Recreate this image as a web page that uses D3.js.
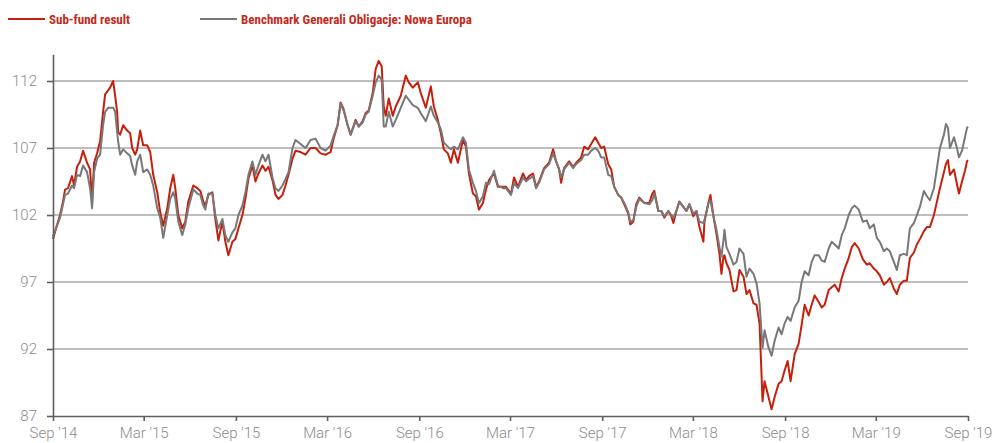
<!DOCTYPE html>
<html>
<head>
<meta charset="utf-8">
<script src="https://cdn.jsdelivr.net/npm/d3@7"></script>
<style>
    body { margin: 0; background: #fff; }
    .grid line { stroke: #a8a8a8; stroke-width: 1.6; }
    .axis path, .axis line { stroke: #5f5f5f; stroke-width: 1.6; }
    .axis text { fill: #8c8c8c; font-family: Roboto, "Open Sans", sans-serif; font-weight: 300; font-size: 15px; }
    .legend text { fill: #c42a1c; font-family: "Liberation Sans Narrow", "Roboto Condensed", sans-serif; font-weight: bold; font-size: 13px; }
</style>
</head>
<body>
<script>
//dates, weekly-ish around turning points
var dates = [
    "2014-09-01","2014-09-07","2014-09-15","2014-09-21","2014-09-25","2014-10-01","2014-10-09","2014-10-13","2014-10-19","2014-10-25",
    "2014-10-31","2014-11-08","2014-11-14","2014-11-18","2014-11-22","2014-11-28","2014-12-04","2014-12-10","2014-12-14","2014-12-20",
    "2014-12-24","2014-12-30","2015-01-03","2015-01-07","2015-01-09","2015-01-13","2015-01-19","2015-01-27","2015-02-02","2015-02-06",
    "2015-02-12","2015-02-16","2015-02-22","2015-02-28","2015-03-08","2015-03-14","2015-03-20","2015-03-28","2015-04-03","2015-04-09",
    "2015-04-17","2015-04-23","2015-04-29","2015-05-03","2015-05-09","2015-05-17","2015-05-23","2015-05-29","2015-06-08","2015-06-16",
    "2015-06-22","2015-06-28","2015-07-02","2015-07-08","2015-07-16","2015-07-22","2015-07-28","2015-08-05","2015-08-11","2015-08-17",
    "2015-08-25","2015-08-31","2015-09-06","2015-09-14","2015-09-20","2015-09-26","2015-10-04","2015-10-10","2015-10-16","2015-10-24",
    "2015-10-30","2015-11-05","2015-11-13","2015-11-19","2015-11-25","2015-12-03","2015-12-09","2015-12-15","2015-12-23","2015-12-29",
    "2016-01-08","2016-01-18","2016-01-28","2016-02-07","2016-02-17","2016-02-27","2016-03-08","2016-03-14","2016-03-22","2016-03-28",
    "2016-04-03","2016-04-11","2016-04-17","2016-04-27","2016-05-03","2016-05-11","2016-05-17","2016-05-23","2016-05-31","2016-06-06",
    "2016-06-12","2016-06-18","2016-06-22","2016-06-26","2016-07-02","2016-07-10","2016-07-16","2016-07-26","2016-08-05","2016-08-11",
    "2016-08-19","2016-08-29","2016-09-04","2016-09-14","2016-09-24","2016-09-30","2016-10-08","2016-10-14","2016-10-20","2016-10-28",
    "2016-11-03","2016-11-09","2016-11-17","2016-11-27","2016-12-03","2016-12-09","2016-12-17","2016-12-23","2016-12-29","2017-01-06",
    "2017-01-12","2017-01-18","2017-01-28","2017-02-05","2017-02-15","2017-02-21","2017-03-03","2017-03-09","2017-03-17","2017-03-27",
    "2017-04-02","2017-04-08","2017-04-16","2017-04-22","2017-04-28","2017-05-08","2017-05-18","2017-05-26","2017-06-01","2017-06-07",
    "2017-06-11","2017-06-17","2017-06-27","2017-07-05","2017-07-11","2017-07-21","2017-07-27","2017-08-04","2017-08-10","2017-08-18",
    "2017-08-24","2017-08-30","2017-09-05","2017-09-13","2017-09-19","2017-09-25","2017-10-03","2017-10-09","2017-10-15","2017-10-23",
    "2017-10-27","2017-11-02","2017-11-08","2017-11-14","2017-11-24","2017-12-04","2017-12-10","2017-12-14","2017-12-22","2017-12-28",
    "2018-01-03","2018-01-11","2018-01-17","2018-01-21","2018-01-27","2018-02-02","2018-02-10","2018-02-16","2018-02-22","2018-03-02",
    "2018-03-08","2018-03-14","2018-03-22","2018-03-24","2018-04-01","2018-04-05","2018-04-11","2018-04-17","2018-04-23","2018-04-27",
    "2018-05-01","2018-05-03","2018-05-07","2018-05-13","2018-05-21","2018-05-27","2018-06-02","2018-06-10","2018-06-16","2018-06-22",
    "2018-06-30","2018-07-06","2018-07-12","2018-07-18","2018-07-22","2018-07-30","2018-08-05","2018-08-11","2018-08-19","2018-08-25",
    "2018-08-31","2018-09-06","2018-09-12","2018-09-20","2018-09-28","2018-10-04","2018-10-10","2018-10-18","2018-10-24","2018-10-30",
    "2018-11-07","2018-11-13","2018-11-19","2018-11-27","2018-12-03","2018-12-09","2018-12-17","2018-12-23","2018-12-29","2019-01-06",
    "2019-01-12","2019-01-18","2019-01-26","2019-02-03","2019-02-11","2019-02-17","2019-02-25","2019-03-03","2019-03-09","2019-03-17",
    "2019-03-23","2019-03-29","2019-04-06","2019-04-12","2019-04-18","2019-04-26","2019-05-02","2019-05-08","2019-05-16","2019-05-22",
    "2019-05-28","2019-06-05","2019-06-11","2019-06-17","2019-06-25","2019-07-01","2019-07-07","2019-07-15","2019-07-19","2019-07-23",
    "2019-07-27","2019-08-04","2019-08-10","2019-08-14","2019-08-20","2019-08-26","2019-08-30","2019-09-01"
];

//sub-fund result
var subFund = [
    100.2,101.0,102.0,103.0,103.9,104.0,104.9,104.2,105.6,106.0,
    106.8,105.9,105.4,103.0,105.9,106.6,107.5,109.7,111.0,111.3,
    111.5,112.0,110.9,109.7,108.2,108.0,108.7,108.3,108.1,107.0,
    106.5,106.9,108.3,107.2,107.2,106.7,105.0,103.7,102.2,101.2,
    102.5,104.0,105.0,104.0,102.0,101.0,101.5,103.0,104.2,104.0,
    103.8,103.0,102.7,103.5,103.7,101.7,100.1,101.5,100.0,99.0,
    100.0,100.2,101.0,102.0,103.2,104.7,105.7,104.5,105.1,105.7,
    105.3,105.6,104.6,103.5,103.2,103.5,104.2,105.0,106.2,106.8,
    106.7,106.5,107.0,107.0,106.6,106.5,106.7,107.7,108.7,110.4,
    109.9,108.7,108.0,109.1,108.6,109.0,109.6,109.8,111.1,112.9,
    113.5,113.1,110.1,109.4,110.7,109.4,110.1,110.9,112.4,111.9,
    111.5,111.9,111.1,110.0,111.6,110.1,109.1,108.1,106.9,106.6,
    105.9,106.9,105.9,107.6,107.1,105.1,103.6,103.4,102.4,102.9,
    103.9,104.6,105.1,104.1,104.1,104.1,103.6,104.8,104.1,105.1,
    104.6,104.9,105.1,104.1,104.5,105.5,105.9,106.9,106.0,105.4,
    104.4,105.5,106.0,105.6,105.9,106.3,107.1,106.9,107.3,107.8,
    107.4,107.0,107.1,105.8,105.4,104.1,103.5,103.3,102.8,102.1,
    101.3,101.5,102.8,103.3,102.9,102.9,103.6,103.8,102.3,102.3,
    101.8,102.3,101.9,101.4,102.3,103.0,102.6,102.3,102.8,101.9,
    102.3,101.1,100.0,101.5,102.9,103.5,101.9,100.6,99.1,97.6,
    98.9,99.0,98.4,97.9,96.3,96.4,97.9,97.4,96.1,96.4,
    95.4,95.3,93.9,88.1,89.6,88.4,87.5,88.4,89.4,89.6,
    90.4,91.1,89.6,91.6,92.4,93.8,95.3,94.5,95.3,96.0,
    95.5,95.1,95.3,96.4,96.6,96.8,96.3,97.3,98.0,98.8,
    99.6,99.9,99.5,98.7,98.3,98.4,98.0,97.8,97.5,96.8,
    97.0,97.3,96.5,96.1,96.8,97.1,97.1,98.8,99.2,99.8,
    100.2,100.8,101.1,101.1,102.0,103.0,104.0,105.2,105.8,106.1,
    105.0,105.4,104.3,103.6,104.5,105.3,106.0,106.1
];

//benchmark Generali Obligacje: Nowa Europa
var benchmark = [
    100.4,101.0,101.8,102.8,103.5,103.6,104.2,104.0,105.0,104.9,
    105.7,105.2,104.0,102.5,105.2,106.2,106.5,108.7,109.7,110.0,
    110.0,110.0,109.7,108.2,107.5,106.5,106.9,106.6,106.4,105.7,
    105.0,106.0,106.5,105.2,105.4,105.0,104.2,102.5,101.8,100.3,
    102.0,103.2,103.7,103.2,101.5,100.5,101.3,102.5,103.9,103.6,
    103.5,102.7,102.4,103.6,103.6,102.0,101.0,101.7,100.5,100.0,
    100.7,101.0,102.0,102.7,103.7,105.0,106.0,105.0,105.7,106.5,
    106.0,106.5,104.8,104.0,103.8,104.2,104.7,105.2,107.0,107.6,
    107.3,107.0,107.6,107.7,107.0,106.8,107.2,107.9,108.7,110.3,
    109.8,108.7,108.0,109.0,108.6,108.9,109.5,109.7,110.9,111.9,
    112.4,112.1,108.6,108.6,109.7,108.6,109.1,110.0,110.9,110.6,
    110.2,110.0,109.6,109.0,110.1,109.4,108.9,108.4,107.4,107.1,
    106.9,107.1,106.9,107.8,107.4,105.4,104.4,103.8,102.9,103.4,
    104.4,104.3,105.3,104.2,104.0,104.0,103.5,104.4,104.0,104.8,
    104.5,104.7,104.9,104.0,104.4,105.4,105.8,106.6,106.0,105.4,
    104.8,105.4,105.9,105.5,105.8,106.1,106.5,106.5,106.8,107.0,
    106.8,106.3,106.3,105.0,104.9,104.1,103.5,103.3,102.9,102.2,
    101.5,101.6,102.6,103.2,102.9,102.8,103.1,103.6,102.3,102.3,
    101.9,102.3,102.0,101.8,102.3,103.0,102.6,102.3,102.8,102.1,
    102.3,101.5,101.4,101.6,102.9,103.1,101.9,100.9,99.6,98.9,
    100.1,100.9,99.6,99.1,98.3,98.5,99.5,99.1,97.4,98.0,
    97.6,96.9,95.4,92.1,93.4,92.1,91.5,92.6,93.6,93.1,
    93.9,94.4,94.1,95.1,95.6,97.0,97.8,97.5,98.5,99.0,
    99.0,98.6,98.5,99.5,100.0,99.8,99.5,100.5,101.0,102.0,
    102.5,102.7,102.4,101.5,101.6,101.0,101.3,100.3,100.0,99.3,
    99.5,99.3,98.5,97.9,99.0,99.1,99.0,101.0,101.4,102.0,
    102.6,103.8,103.4,103.1,104.0,105.5,107.0,108.0,108.8,108.5,
    107.0,107.8,107.0,106.3,106.8,107.8,108.5,108.6
];

//axis ticks
var yTicks = [87, 92, 97, 102, 107, 112];
var xTickDates = ["2014-09-01","2015-03-01","2015-09-01","2016-03-01","2016-09-01","2017-03-01",
    "2017-09-01","2018-03-01","2018-09-01","2019-03-01","2019-09-01"];

var seriesNames = ["Sub-fund result", "Benchmark Generali Obligacje: Nowa Europa"];
var seriesColors = ["#c61f0c", "#787878"];

function drawChart(){
    var width = 995,
        height = 443,
        left = 53,
        right = 968,
        bottom = 416;

    var parse = d3.timeParse("%Y-%m-%d");

    var svg = d3.select("body")
        .append("svg")
        .attr("width", width)
        .attr("height", height);

    var x = d3.scaleTime()
        .domain([parse("2014-09-01"), parse("2019-09-01")])
        .range([left, right]);

    //112 sits at y=81, the axis line runs a bit above it
    var y = d3.scaleLinear()
        .domain([87, 114])
        .range([bottom, bottom - 27 * 13.4]);

    //horizontal grid
    svg.append("g")
        .attr("class", "grid")
        .selectAll("line")
        .data(yTicks.slice(1))
        .enter()
        .append("line")
        .attr("x1", left)
        .attr("x2", right)
        .attr("y1", function(d){ return y(d); })
        .attr("y2", function(d){ return y(d); });

    var rows = dates.map(function(d, i){
        return { date: parse(d), sub: subFund[i], bench: benchmark[i] };
    });

    var subLine = d3.line()
        .x(function(d){ return x(d.date); })
        .y(function(d){ return y(d.sub); });

    var benchLine = d3.line()
        .x(function(d){ return x(d.date); })
        .y(function(d){ return y(d.bench); });

    svg.append("path")
        .datum(rows)
        .attr("fill", "none")
        .attr("stroke", seriesColors[0])
        .attr("stroke-width", 2)
        .attr("stroke-linejoin", "round")
        .attr("d", subLine);

    svg.append("path")
        .datum(rows)
        .attr("fill", "none")
        .attr("stroke", seriesColors[1])
        .attr("stroke-width", 2)
        .attr("stroke-linejoin", "round")
        .attr("d", benchLine);

    //axes
    var yAxis = d3.axisLeft(y)
        .tickValues(yTicks)
        .tickSize(6)
        .tickSizeOuter(0)
        .tickPadding(10);

    svg.append("g")
        .attr("class", "axis")
        .attr("transform", "translate(" + left + ",0)")
        .call(yAxis);

    var xAxis = d3.axisBottom(x)
        .tickValues(xTickDates.map(parse))
        .tickFormat(d3.timeFormat("%b '%y"))
        .tickSize(5)
        .tickSizeOuter(0)
        .tickPadding(6);

    svg.append("g")
        .attr("class", "axis")
        .attr("transform", "translate(0," + bottom + ")")
        .call(xAxis);

    //legend
    var legend = svg.append("g").attr("class", "legend");
    var legendX = [8, 200];
    seriesNames.forEach(function(name, i){
        legend.append("line")
            .attr("x1", legendX[i])
            .attr("x2", legendX[i] + 37)
            .attr("y1", 19)
            .attr("y2", 19)
            .attr("stroke", seriesColors[i])
            .attr("stroke-width", 2);
        legend.append("text")
            .attr("x", legendX[i] + 41)
            .attr("y", 23.5)
            .text(name);
    });
}

drawChart();
</script>
</body>
</html>
